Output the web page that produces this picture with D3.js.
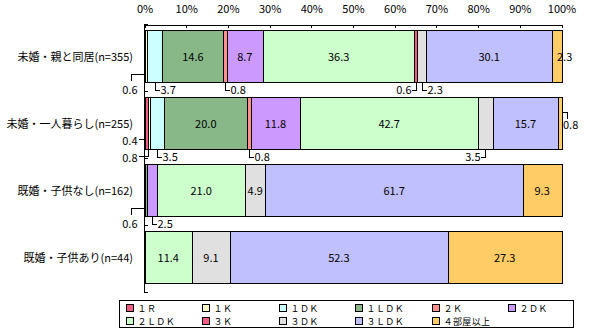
<!DOCTYPE html>
<html><head><meta charset="utf-8">
<script src="https://cdn.jsdelivr.net/npm/d3@7"></script>
<style>
html,body{margin:0;padding:0;background:#fff;}
svg{display:block;}
text{font-family:"Noto Sans CJK JP","Noto Sans",sans-serif;fill:#000;}
</style></head>
<body>
<script>
const categories = ["未婚・親と同居(n=355)", "未婚・一人暮らし(n=255)", "既婚・子供なし(n=162)", "既婚・子供あり(n=44)"];
const seriesNames = ["１Ｒ","１Ｋ","１ＤＫ","１ＬＤＫ","２Ｋ","２ＤＫ","２ＬＤＫ","３Ｋ","３ＤＫ","３ＬＤＫ","４部屋以上"];
const v1R   = [0,    0.8,  0,    0];
const v1K   = [0.6,  0.4,  0,    0];
const v1DK  = [3.7,  3.5,  0,    0];
const v1LDK = [14.6, 20.0, 0.6,  0];
const v2K   = [0.8,  0.8,  0,    0];
const v2DK  = [8.7,  11.8, 2.5,  0];
const v2LDK = [36.3, 42.7, 21.0, 11.4];
const v3K   = [0.6,  0,    0,    0];
const v3DK  = [2.3,  3.5,  4.9,  9.1];
const v3LDK = [30.1, 15.7, 61.7, 52.3];
const v4R   = [2.3,  0.8,  9.3,  27.3];
const seriesValues = [v1R, v1K, v1DK, v1LDK, v2K, v2DK, v2LDK, v3K, v3DK, v3LDK, v4R];
const colors = ["#F05C84","#FFFFCC","#CCFFFF","#88B888","#FF9090","#CC99FF","#CCFFCC","#F05C84","#E0E0E0","#C0C0FF","#FFCC66"];
const tickValues = [0,10,20,30,40,50,60,70,80,90,100];
// labels drawn outside bars with leader lines
const outsideLabels = [
  {row:0, key:"１Ｋ", kind:"leftUp"},
  {row:0, key:"１ＤＫ", kind:"belowRight"},
  {row:0, key:"２Ｋ", kind:"belowRight"},
  {row:0, key:"３Ｋ", kind:"belowLeft"},
  {row:0, key:"３ＤＫ", kind:"belowRight"},
  {row:0, key:"４部屋以上", kind:"edge"},
  {row:1, key:"１Ｒ", kind:"leftLow"},
  {row:1, key:"１Ｋ", kind:"leftMid"},
  {row:1, key:"１ＤＫ", kind:"belowRight"},
  {row:1, key:"２Ｋ", kind:"belowRight"},
  {row:1, key:"３ＤＫ", kind:"belowLeft"},
  {row:1, key:"４部屋以上", kind:"rightDown"},
  {row:2, key:"１ＬＤＫ", kind:"leftUp"},
  {row:2, key:"２ＤＫ", kind:"belowRight"}
];

const W = 591, H = 330;
const svg = d3.select("body").append("svg").attr("width", W).attr("height", H);

const xs = d3.scaleLinear().domain([0,100]).range([144.5, 561.5]);
const ys = d3.scaleBand().domain(categories).range([24, 292])
  .paddingInner(15/67).paddingOuter(15/134).align(0.4);

const rows = categories.map((c, i) => {
  const o = {cat: c};
  seriesNames.forEach((s, j) => o[s] = seriesValues[j][i]);
  return o;
});
const stack = d3.stack().keys(seriesNames).offset(d3.stackOffsetExpand);
const stacked = stack(rows);

const fmt = d3.format(".1f");
const yTop = c => Math.round(ys(c)) + 0.5;
const yBot = c => Math.round(ys(c) + ys.bandwidth()) + 0.5;

// top axis
const axTop = svg.append("g").attr("transform", "translate(0,24.5)")
  .call(d3.axisTop(xs).tickValues(tickValues).tickFormat(d => d + "%")
    .tickSizeInner(-3).tickSizeOuter(0).tickPadding(12));
axTop.select(".domain").attr("stroke", "#000").attr("shape-rendering", "crispEdges");
axTop.selectAll(".tick line").attr("stroke", "#000").attr("shape-rendering", "crispEdges");
axTop.selectAll(".tick text").attr("font-size", 11).attr("font-family", '"Noto Sans CJK JP",sans-serif').attr("fill", "#000");

// left axis line with boundary ticks
const ax0 = xs(0);
svg.append("line").attr("x1", ax0).attr("x2", ax0).attr("y1", 24).attr("y2", 292.5)
  .attr("stroke", "#000").attr("shape-rendering", "crispEdges");
const bounds = d3.range(categories.length + 1).map(k => ys.range()[0] + k * ys.step());
svg.selectAll("line.bt").data(bounds).enter().append("line")
  .attr("x1", ax0).attr("x2", ax0 + 3)
  .attr("y1", d => Math.round(d) + 0.5).attr("y2", d => Math.round(d) + 0.5)
  .attr("stroke", "#000").attr("shape-rendering", "crispEdges");

// category labels
svg.selectAll("text.cat").data(categories).enter().append("text")
  .attr("x", 133).attr("y", d => ys(d) + ys.bandwidth() / 2)
  .attr("text-anchor", "end").attr("dominant-baseline", "central")
  .attr("font-size", 11).text(d => d);

// bars
const layer = svg.selectAll("g.layer").data(stacked).enter().append("g")
  .attr("fill", (d, i) => colors[i]);
layer.selectAll("rect").data(d => d.filter(p => p[1] - p[0] > 0)).enter().append("rect")
  .attr("x", p => Math.round(xs(p[0] * 100)) + 0.5)
  .attr("width", p => Math.round(xs(p[1] * 100)) - Math.round(xs(p[0] * 100)))
  .attr("y", p => yTop(p.data.cat))
  .attr("height", p => yBot(p.data.cat) - yTop(p.data.cat))
  .attr("stroke", "#000").attr("stroke-width", 1).attr("shape-rendering", "crispEdges");

// value labels
const isOutside = (row, key) => outsideLabels.some(o => o.row === row && o.key === key);
stacked.forEach((layerData, si) => {
  const key = seriesNames[si];
  layerData.forEach((p, ri) => {
    const val = seriesValues[si][ri];
    if (val <= 0 || isOutside(ri, key)) return;
    const c = p.data.cat;
    svg.append("text")
      .attr("x", xs((p[0] + p[1]) / 2 * 100))
      .attr("y", ys(c) + ys.bandwidth() / 2)
      .attr("text-anchor", "middle").attr("dominant-baseline", "central")
      .attr("font-size", 11).text(fmt(val));
  });
});

// outside labels with leader lines
outsideLabels.forEach(o => {
  const si = seriesNames.indexOf(o.key);
  const p = stacked[si][o.row];
  const c = categories[o.row];
  const xa = xs(p[0] * 100), xb = xs(p[1] * 100), xc = Math.round((xa + xb) / 2) + 0.5;
  const y1 = yBot(c), cy = ys(c) + ys.bandwidth() / 2;
  const txt = fmt(seriesValues[si][o.row]);
  let path = null, tx, ty, anchor = "start";
  if (o.kind === "belowRight") {
    path = `M${xc},${y1}V${y1 + 8}H${xc + 4}`; tx = xc + 5; ty = y1 + 6.5;
  } else if (o.kind === "belowLeft") {
    path = `M${xc},${y1}V${y1 + 8}H${xc - 5}`; tx = xc - 5; ty = y1 + 6.5; anchor = "end";
  } else if (o.kind === "leftUp") {
    const lx = Math.round(ax0 - 14) + 0.5;
    path = `M${lx},${y1 - 2}V${y1 - 8}H${ax0}`; tx = ax0 - 7; ty = y1 + 6; anchor = "end";
  } else if (o.kind === "leftMid") {
    path = `M${ax0 - 6},${y1 - 10}H${ax0}`; tx = ax0 - 7; ty = y1 - 10; anchor = "end";
  } else if (o.kind === "leftLow") {
    const lx = Math.round(xb) + 0.5;
    path = `M${lx},${y1}V${y1 + 7}H${ax0 - 6}`; tx = ax0 - 7; ty = y1 + 7; anchor = "end";
  } else if (o.kind === "rightDown") {
    const ry = Math.round(cy - 11) + 0.5;
    path = `M${xb},${ry}H${xb + 6}V${ry + 6}`; tx = xb + 1.5; ty = cy + 1;
  } else if (o.kind === "edge") {
    tx = xc - 0.5; ty = cy;
  }
  if (path) svg.append("path").attr("d", path).attr("fill", "none").attr("stroke", "#000")
    .attr("shape-rendering", "crispEdges");
  svg.append("text").attr("x", tx).attr("y", ty).attr("text-anchor", anchor)
    .attr("dominant-baseline", "central").attr("font-size", 11).text(txt);
});

// legend
const lg = svg.append("g");
lg.append("rect").attr("x", 119.5).attr("y", 300.5).attr("width", 454).attr("height", 27)
  .attr("fill", "#fff").attr("stroke", "#000").attr("shape-rendering", "crispEdges");
const li = lg.selectAll("g.li").data(seriesNames).enter().append("g")
  .attr("transform", (d, i) => `translate(${Math.round(125.7 + (i % 6) * 76.5) + 0.5},${Math.floor(i / 6) === 0 ? 304.5 : 317.5})`);
li.append("rect").attr("width", 7).attr("height", 7)
  .attr("fill", (d, i) => colors[i]).attr("stroke", "#000").attr("shape-rendering", "crispEdges");
li.append("text").attr("x", 11).attr("y", 4).attr("dominant-baseline", "central")
  .attr("font-size", 9).attr("letter-spacing", 0.4).text(d => d);
</script>
</body></html>
